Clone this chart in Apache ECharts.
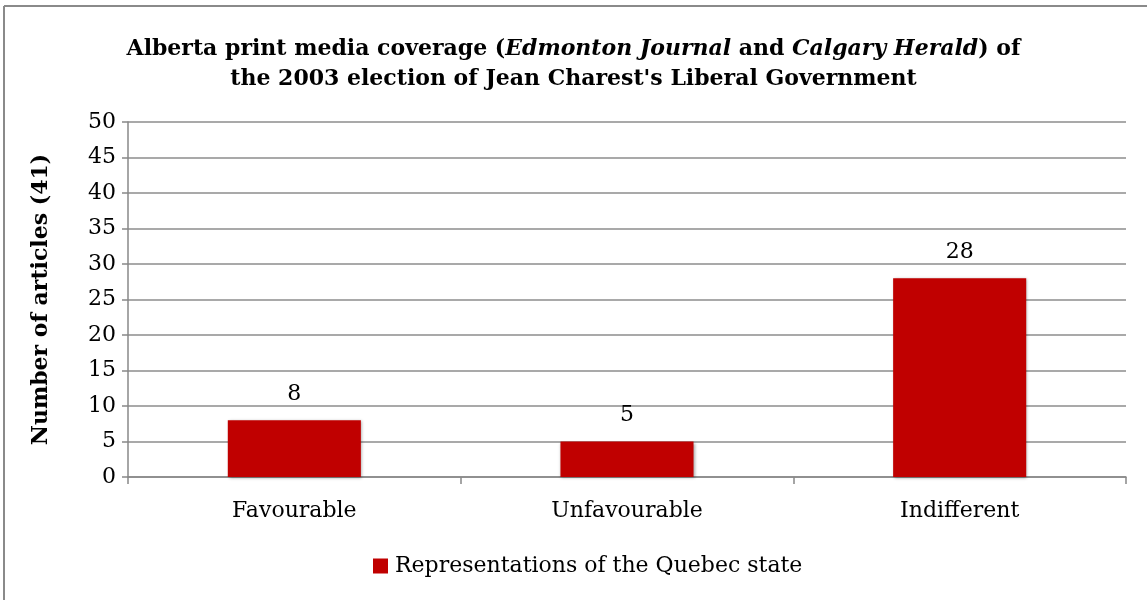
<!DOCTYPE html>
<html>
<head>
<meta charset="utf-8">
<script src="https://cdn.jsdelivr.net/npm/echarts@6/dist/echarts.min.js"></script>
<style>
html,body{margin:0;padding:0;background:#fff;}
#chart{width:1147px;height:600px;}
</style>
</head>
<body>
<div id="chart"></div>
<script>
const categories = ['Favourable', 'Unfavourable', 'Indifferent'];
const seriesName = 'Representations of the Quebec state';
const values = [8, 5, 28];
const yMin = 0, yMax = 50, yInterval = 5;

const serif = '"DejaVu Serif", "Liberation Serif", serif';
const chart = echarts.init(document.getElementById('chart'));
chart.setOption({
  backgroundColor: '#fff',
  animation: false,
  title: {
    text: '{b|Alberta print media coverage (}{i|Edmonton Journal}{b| and }{i|Calgary Herald}{b|) of}\n{b|the 2003 election of Jean Charest\'s Liberal Government}',
    left: 'center',
    top: 29,
    textStyle: {
      rich: {
        b: { fontFamily: serif, fontWeight: 'bold', fontSize: 22, color: '#000', lineHeight: 30 },
        i: { fontFamily: serif, fontWeight: 'bold', fontStyle: 'italic', fontSize: 22, color: '#000', lineHeight: 30 }
      }
    }
  },
  graphic: [
    { type: 'line', shape: { x1: 4, y1: 6, x2: 4, y2: 600 }, style: { stroke: '#8a8a8a', lineWidth: 2 } },
    { type: 'line', shape: { x1: 4, y1: 6, x2: 1147, y2: 6 }, style: { stroke: '#8a8a8a', lineWidth: 2 } }
  ],
  legend: {
    bottom: 18,
    left: 368,
    icon: 'rect',
    itemWidth: 15,
    itemHeight: 15,
    itemGap: 10,
    textStyle: { fontFamily: serif, fontSize: 22, color: '#000', padding: [0, 0, 0, 2] },
    data: [seriesName]
  },
  grid: { left: 128, right: 21, top: 122, bottom: 123, containLabel: false },
  xAxis: {
    type: 'category',
    data: categories,
    axisLine: { lineStyle: { color: '#888', width: 1.5 } },
    axisTick: { show: true, length: 7, lineStyle: { color: '#888', width: 1.5 } },
    axisLabel: { fontFamily: serif, fontSize: 22, color: '#000', margin: 23 }
  },
  yAxis: {
    type: 'value',
    min: yMin, max: yMax, interval: yInterval,
    name: 'Number of articles (41)',
    nameLocation: 'middle',
    nameRotate: 90,
    nameGap: 76,
    nameTextStyle: { fontFamily: serif, fontWeight: 'bold', fontSize: 22, color: '#000' },
    axisLine: { show: true, lineStyle: { color: '#888', width: 1.5 } },
    axisTick: { show: true, length: 6, lineStyle: { color: '#888', width: 1.5 } },
    axisLabel: { fontFamily: serif, fontSize: 22, color: '#000', margin: 12 },
    splitLine: { lineStyle: { color: '#8c8c8c', width: 1.5 } }
  },
  series: [{
    name: seriesName,
    type: 'bar',
    data: values,
    barWidth: '40%',
    itemStyle: {
      color: '#C00000',
      shadowBlur: 3,
      shadowColor: 'rgba(0,0,0,0.35)',
      shadowOffsetX: 1,
      shadowOffsetY: 1
    },
    label: {
      show: true,
      position: 'top',
      distance: 15,
      fontFamily: serif,
      fontSize: 22,
      color: '#000'
    }
  }]
});
</script>
</body>
</html>
